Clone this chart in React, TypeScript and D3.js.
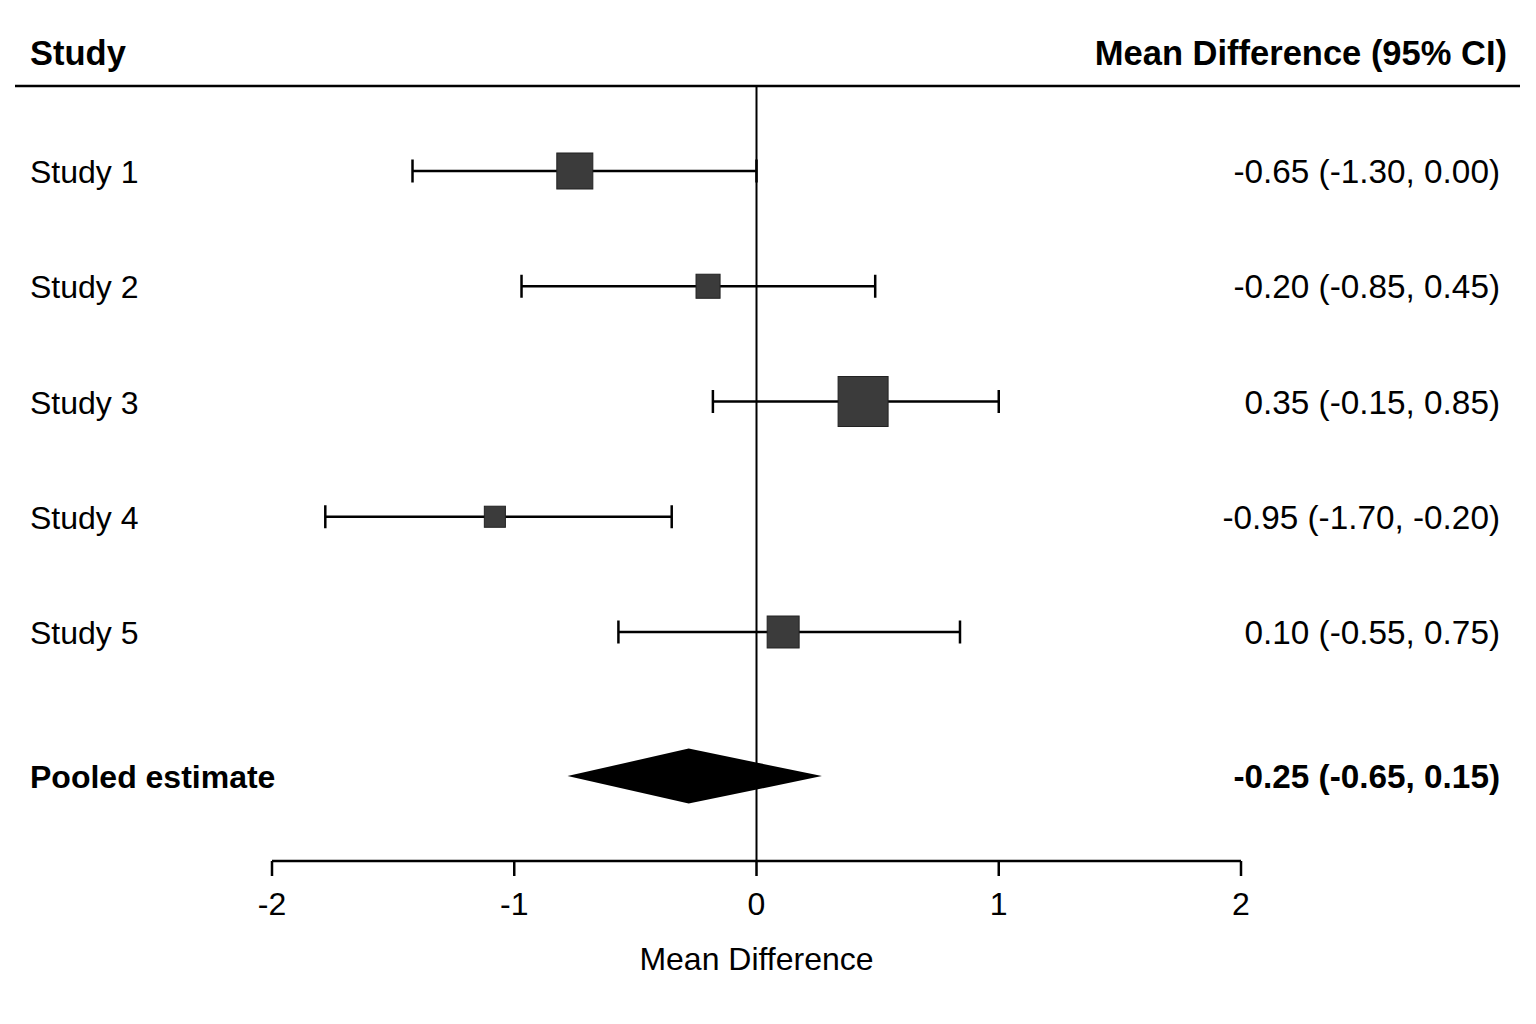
import { useMemo } from 'react';
import * as d3 from 'd3';

// studies, plotted estimates/CI (read from the marks) and printed labels
const studies = ['Study 1', 'Study 2', 'Study 3', 'Study 4', 'Study 5'];
const estimates = [-0.75, -0.2, 0.44, -1.08, 0.11];
const lower = [-1.42, -0.97, -0.18, -1.78, -0.57];
const upper = [0.0, 0.49, 1.0, -0.35, 0.84];
const weights = [22.2, 9.9, 42.8, 7.6, 17.5];
const ciLabels = [
  '-0.65 (-1.30, 0.00)',
  '-0.20 (-0.85, 0.45)',
  '0.35 (-0.15, 0.85)',
  '-0.95 (-1.70, -0.20)',
  '0.10 (-0.55, 0.75)',
];

const pooledName = 'Pooled estimate';
const pooled = { est: -0.28, lo: -0.78, hi: 0.27 };
const pooledLabel = '-0.25 (-0.65, 0.15)';

const xTickValues = [-2, -1, 0, 1, 2];
const xTitle = 'Mean Difference';
const headLeft = 'Study';
const headRight = 'Mean Difference (95% CI)';

const W = 1536;
const H = 1024;
const FONT = '"Liberation Sans", Arial, Helvetica, sans-serif';

function ForestPlot() {
  const x = useMemo(() => d3.scaleLinear().domain([-2, 2]).range([272, 1241]), []);
  const y = useMemo(() => d3.scaleLinear().domain([0, 4]).range([171, 632]), []);
  const size = useMemo(() => d3.scaleSqrt().domain([0, 42.8]).range([0, 50]), []);

  const axisY = 861;
  const pooledY = y(5.25);
  const capH = 11.5;
  const dh = 27.5;

  const diamond = d3.line()([
    [x(pooled.lo), pooledY],
    [x(pooled.est), pooledY - dh],
    [x(pooled.hi), pooledY],
    [x(pooled.est), pooledY + dh],
  ]) + 'Z';

  return (
    <svg
      width={W}
      height={H}
      style={{ position: 'absolute', left: 0, top: 0, background: '#fff' }}
      fontFamily={FONT}
    >
      {/* header */}
      <text x={30} y={65} fontSize={34.5} fontWeight="bold">{headLeft}</text>
      <text x={1507} y={65} fontSize={34.5} fontWeight="bold" textAnchor="end">{headRight}</text>
      <line x1={15} x2={1520} y1={86} y2={86} stroke="#000" strokeWidth={2.5} />

      {/* null line */}
      <line x1={x(0)} x2={x(0)} y1={86} y2={axisY} stroke="#000" strokeWidth={2} />

      {studies.map((s, i) => {
        const cy = y(i);
        const side = size(weights[i]);
        return (
          <g key={s}>
            <text x={30} y={cy + 12} fontSize={32}>{s}</text>
            <text x={1500} y={cy + 12} fontSize={33.3} textAnchor="end">{ciLabels[i]}</text>
            <line x1={x(lower[i])} x2={x(upper[i])} y1={cy} y2={cy} stroke="#000" strokeWidth={2.5} />
            <line x1={x(lower[i])} x2={x(lower[i])} y1={cy - capH} y2={cy + capH} stroke="#000" strokeWidth={2.5} />
            <line x1={x(upper[i])} x2={x(upper[i])} y1={cy - capH} y2={cy + capH} stroke="#000" strokeWidth={2.5} />
            <rect
              x={x(estimates[i]) - side / 2}
              y={cy - side / 2}
              width={side}
              height={side}
              fill="#3b3b3b"
              stroke="#222"
              strokeWidth={1}
            />
          </g>
        );
      })}

      {/* pooled */}
      <text x={30} y={pooledY + 12} fontSize={32} fontWeight="bold">{pooledName}</text>
      <text x={1500} y={pooledY + 12} fontSize={33.3} fontWeight="bold" textAnchor="end">{pooledLabel}</text>
      <path d={diamond} fill="#000" />

      {/* x axis */}
      <line x1={x(-2)} x2={x(2)} y1={axisY} y2={axisY} stroke="#000" strokeWidth={2.5} />
      {xTickValues.map((v) => (
        <g key={v} transform={`translate(${x(v)}, ${axisY})`}>
          <line y2={15} stroke="#000" strokeWidth={2.5} />
          <text y={54} fontSize={32} textAnchor="middle">{String(v)}</text>
        </g>
      ))}
      <text x={x(0)} y={970} fontSize={32} textAnchor="middle">{xTitle}</text>
    </svg>
  );
}

export default function App() {
  return <ForestPlot />;
}
